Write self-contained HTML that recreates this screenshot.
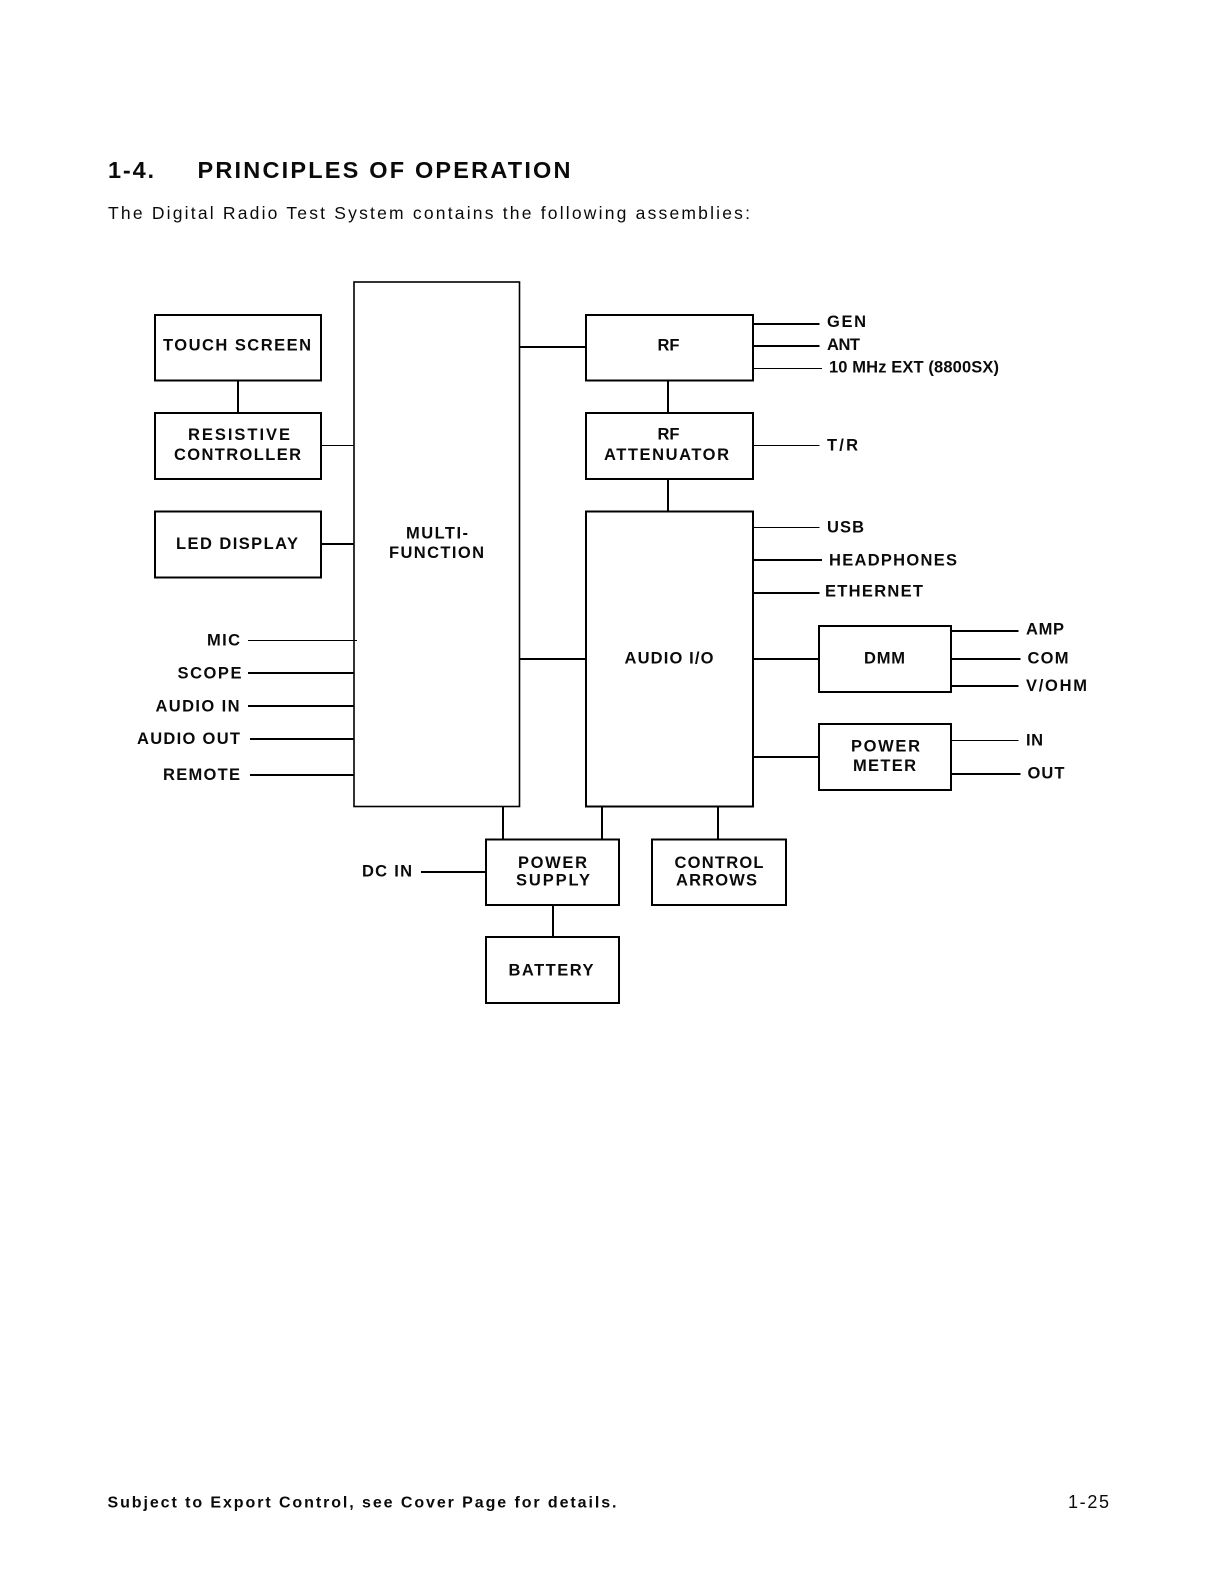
<!DOCTYPE html>
<html>
<head>
<meta charset="utf-8">
<style>
html,body{margin:0;padding:0;background:#fff;width:1219px;height:1582px;overflow:hidden}
svg{display:block}
text{font-family:"Liberation Sans",sans-serif;fill:#0a0a0a}
.l{font-weight:bold;font-size:16.5px}
.h{font-weight:bold;font-size:23.5px}
.b{font-size:17.5px}
.f{font-weight:bold;font-size:16px}
.n{font-size:18px}
rect,line{stroke:#000;fill:none;shape-rendering:geometricPrecision}
rect{stroke-width:2}
.m{stroke-width:1.6}
.t{stroke-width:2}
.s{stroke-width:1}
</style>
</head>
<body>
<svg width="1219" height="1582" viewBox="0 0 1219 1582" xmlns="http://www.w3.org/2000/svg">
<rect x="0" y="0" width="1219" height="1582" style="fill:#fff;stroke:none"/>

<text class="h" x="108" y="178" textLength="46" lengthAdjust="spacing">1-4.</text>
<text class="h" x="197.5" y="178" textLength="373" lengthAdjust="spacing">PRINCIPLES OF OPERATION</text>
<text class="b" x="108" y="219" textLength="642" lengthAdjust="spacing">The Digital Radio Test System contains the following assemblies:</text>

<!-- boxes -->
<rect x="155" y="315" width="166" height="65.5"/>
<rect x="155" y="413" width="166" height="66"/>
<rect x="155" y="511.5" width="166" height="66"/>
<rect class="m" x="354" y="282" width="165.5" height="524.5"/>
<rect x="586" y="315" width="167" height="65.5"/>
<rect x="586" y="413" width="167" height="66"/>
<rect x="586" y="511.5" width="167" height="295"/>
<rect x="819" y="626" width="132" height="66"/>
<rect x="819" y="724" width="132" height="66"/>
<rect x="486" y="839.5" width="133" height="65.5"/>
<rect x="652" y="839.5" width="134" height="65.5"/>
<rect x="486" y="937" width="133" height="66"/>

<!-- connectors -->
<line class="t" x1="238" y1="380" x2="238" y2="413"/>
<line class="s" x1="321" y1="445.5" x2="354" y2="445.5"/>
<line class="t" x1="321" y1="544" x2="354" y2="544"/>
<line class="t" x1="519" y1="347" x2="586" y2="347"/>
<line class="t" x1="519" y1="659" x2="586" y2="659"/>
<line class="t" x1="668" y1="380" x2="668" y2="413"/>
<line class="t" x1="668" y1="479" x2="668" y2="511"/>
<line class="t" x1="753" y1="324" x2="819.5" y2="324"/>
<line class="t" x1="753" y1="346" x2="819.5" y2="346"/>
<line class="s" x1="753" y1="368.5" x2="822" y2="368.5"/>
<line class="s" x1="753" y1="445.5" x2="819.5" y2="445.5"/>
<line class="s" x1="753" y1="527.5" x2="819.5" y2="527.5"/>
<line class="t" x1="753" y1="560" x2="822" y2="560"/>
<line class="t" x1="753" y1="593" x2="819.5" y2="593"/>
<line class="t" x1="753" y1="659" x2="819" y2="659"/>
<line class="t" x1="753" y1="757" x2="819" y2="757"/>
<line class="t" x1="951" y1="631" x2="1018.5" y2="631"/>
<line class="t" x1="951" y1="659" x2="1020.5" y2="659"/>
<line class="t" x1="951" y1="686" x2="1018.5" y2="686"/>
<line class="s" x1="951" y1="740.5" x2="1018.5" y2="740.5"/>
<line class="t" x1="951" y1="774" x2="1020.5" y2="774"/>
<line class="s" x1="248" y1="640.5" x2="357" y2="640.5"/>
<line class="t" x1="248" y1="673" x2="354" y2="673"/>
<line class="t" x1="248" y1="706" x2="354" y2="706"/>
<line class="t" x1="250" y1="739" x2="354" y2="739"/>
<line class="t" x1="250" y1="775" x2="354" y2="775"/>
<line class="t" x1="503" y1="806" x2="503" y2="840"/>
<line class="t" x1="602" y1="806" x2="602" y2="840"/>
<line class="t" x1="718" y1="806" x2="718" y2="840"/>
<line class="t" x1="421" y1="872" x2="486" y2="872"/>
<line class="t" x1="553" y1="905" x2="553" y2="937"/>

<!-- labels -->
<text class="l" x="163" y="350.5" textLength="148" lengthAdjust="spacing">TOUCH SCREEN</text>
<text class="l" x="188" y="440" textLength="102" lengthAdjust="spacing">RESISTIVE</text>
<text class="l" x="174" y="460" textLength="127" lengthAdjust="spacing">CONTROLLER</text>
<text class="l" x="176" y="549" textLength="122" lengthAdjust="spacing">LED DISPLAY</text>
<text class="l" x="406" y="538.5" textLength="62" lengthAdjust="spacing">MULTI-</text>
<text class="l" x="389" y="558" textLength="95" lengthAdjust="spacing">FUNCTION</text>
<text class="l" x="657.5" y="350.5" textLength="22" lengthAdjust="spacing">RF</text>
<text class="l" x="657.5" y="439.5" textLength="22" lengthAdjust="spacing">RF</text>
<text class="l" x="604" y="460" textLength="125" lengthAdjust="spacing">ATTENUATOR</text>
<text class="l" x="624.5" y="663.5" textLength="89" lengthAdjust="spacing">AUDIO I/O</text>
<text class="l" x="864" y="663.5" textLength="41" lengthAdjust="spacing">DMM</text>
<text class="l" x="851" y="751.5" textLength="69" lengthAdjust="spacing">POWER</text>
<text class="l" x="853" y="771" textLength="63" lengthAdjust="spacing">METER</text>
<text class="l" x="518" y="868" textLength="69" lengthAdjust="spacing">POWER</text>
<text class="l" x="516" y="885.5" textLength="74" lengthAdjust="spacing">SUPPLY</text>
<text class="l" x="674.5" y="868" textLength="89" lengthAdjust="spacing">CONTROL</text>
<text class="l" x="676" y="885.5" textLength="81" lengthAdjust="spacing">ARROWS</text>
<text class="l" x="508.5" y="975.5" textLength="85" lengthAdjust="spacing">BATTERY</text>

<text class="l" x="827" y="327" textLength="39" lengthAdjust="spacing">GEN</text>
<text class="l" x="827" y="350" textLength="33" lengthAdjust="spacing">ANT</text>
<text class="l" x="829" y="372.5" textLength="170" lengthAdjust="spacing">10 MHz EXT (8800SX)</text>
<text class="l" x="827" y="450.5" textLength="31" lengthAdjust="spacing">T/R</text>
<text class="l" x="827" y="532.5" textLength="37" lengthAdjust="spacing">USB</text>
<text class="l" x="829" y="565.5" textLength="128" lengthAdjust="spacing">HEADPHONES</text>
<text class="l" x="825" y="596.5" textLength="98" lengthAdjust="spacing">ETHERNET</text>
<text class="l" x="1026" y="634.5" textLength="38" lengthAdjust="spacing">AMP</text>
<text class="l" x="1027.5" y="663.5" textLength="41" lengthAdjust="spacing">COM</text>
<text class="l" x="1026" y="691" textLength="61" lengthAdjust="spacing">V/OHM</text>
<text class="l" x="1026" y="745.5" textLength="17" lengthAdjust="spacing">IN</text>
<text class="l" x="1027.5" y="778.5" textLength="37" lengthAdjust="spacing">OUT</text>

<text class="l" x="207" y="645.5" textLength="33" lengthAdjust="spacing">MIC</text>
<text class="l" x="177.5" y="678.5" textLength="64" lengthAdjust="spacing">SCOPE</text>
<text class="l" x="155.5" y="711.5" textLength="84" lengthAdjust="spacing">AUDIO IN</text>
<text class="l" x="137" y="744" textLength="103" lengthAdjust="spacing">AUDIO OUT</text>
<text class="l" x="163" y="780" textLength="77" lengthAdjust="spacing">REMOTE</text>
<text class="l" x="362" y="876.5" textLength="50" lengthAdjust="spacing">DC IN</text>

<text class="f" x="107.5" y="1507.5" textLength="509" lengthAdjust="spacing">Subject to Export Control, see Cover Page for details.</text>
<text class="n" x="1068" y="1508" textLength="41" lengthAdjust="spacing">1-25</text>
</svg>
</body>
</html>
